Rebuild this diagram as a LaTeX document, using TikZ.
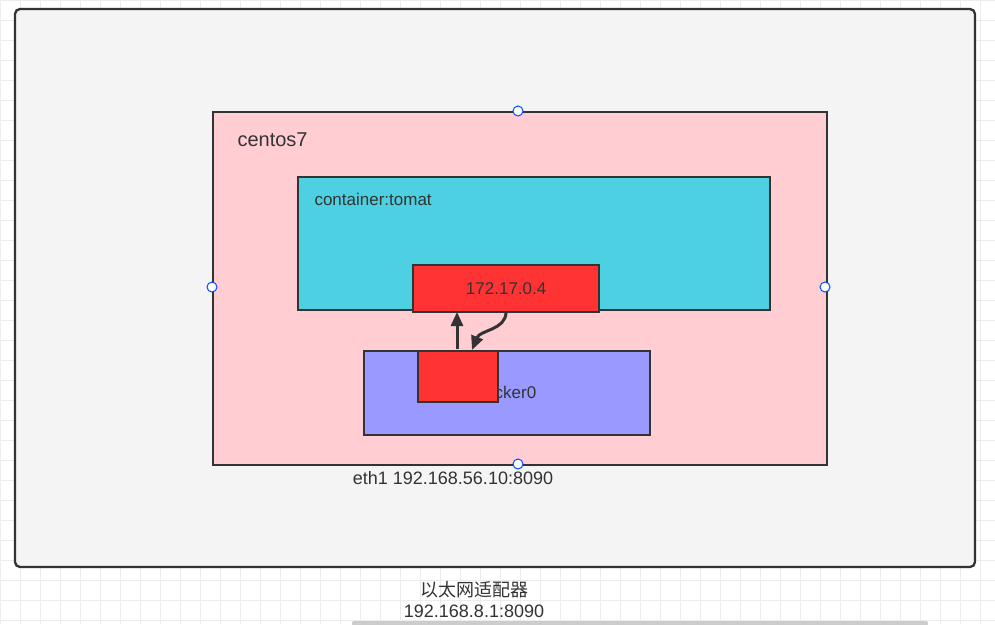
\documentclass[tikz,border=0pt]{standalone}
\usepackage{fontspec}
\setmainfont{Liberation Sans}
\newfontfamily\cjk{Noto Sans CJK SC}
\usetikzlibrary{arrows.meta}
\definecolor{bgc}{HTML}{F4F4F4}
\definecolor{pinkc}{HTML}{FFCDD2}
\definecolor{cyanc}{HTML}{4DD0E1}
\definecolor{redc}{HTML}{FF3333}
\definecolor{purc}{HTML}{9999FF}
\definecolor{linec}{HTML}{333333}
\tikzset{box/.style={draw=linec,line width=2.3pt,anchor=north west,inner sep=0pt},
lab/.style={text=linec,font=\fontsize{17}{20}\selectfont},
handle/.style={circle,draw=blue!70!cyan,fill=white,inner sep=0pt,minimum size=10pt,line width=1pt},
arr/.style={draw=linec,line width=3pt,-{Triangle[length=14pt,width=12pt]}}}
\begin{document}
\begin{tikzpicture}[x=1pt,y=-1pt]
\useasboundingbox (0,0) rectangle (995,624);
\fill[white] (0,0) rectangle (995,624);
\draw[gray!15,step=20pt] (0,0) grid (995,624);
\draw[linec,line width=2.3pt,fill=bgc,rounded corners=5pt] (15,9) rectangle (975,567);
\node[box,fill=pinkc,minimum width=614pt,minimum height=353pt] (host) at (212,111) {};
\node[lab,anchor=west,font=\fontsize{20}{22}\selectfont] (hl) at (234,140) {centos7};
\node[box,fill=cyanc,minimum width=472pt,minimum height=133pt] (cont) at (297,176) {};
\node[lab,anchor=west] (cl) at (311,199) {container:tomat};
\node[box,fill=redc,minimum width=186pt,minimum height=47pt] (ip) at (412,264) {};
\node[lab] (ipl) at (ip.center) {172.17.0.4};
\node[box,fill=purc,minimum width=286pt,minimum height=84pt] (dock) at (363,350) {};
\node[lab] (dl) at (506,392) {docker0};
\node[box,fill=redc,minimum width=80pt,minimum height=51pt] (veth) at (417,350) {};
\coordinate (a1) at (457,349);
\coordinate (a2) at (457,312);
\coordinate (b1) at (506,312);
\coordinate (b2) at (472,350);
\draw[arr] (a1) -- (a2);
\draw[arr] (b1) .. controls (506,330) and (480,330) .. (b2);
\node[handle] (h1) at (518,111) {};
\node[handle] (h2) at (212,287) {};
\node[handle] (h3) at (825,287) {};
\node[handle] (h4) at (518,464) {};
\node[lab,font=\fontsize{18}{20}\selectfont] (eth) at (453,478) {eth1 192.168.56.10:8090};
\node[lab,font=\fontsize{18}{20}\selectfont\cjk] (ad) at (474,590) {以太网适配器};
\node[lab,font=\fontsize{18}{20}\selectfont] (adip) at (474,611) {192.168.8.1:8090};
\fill[gray!40,rounded corners=2pt] (352,621) rectangle (928,626);
\end{tikzpicture}
\end{document}
